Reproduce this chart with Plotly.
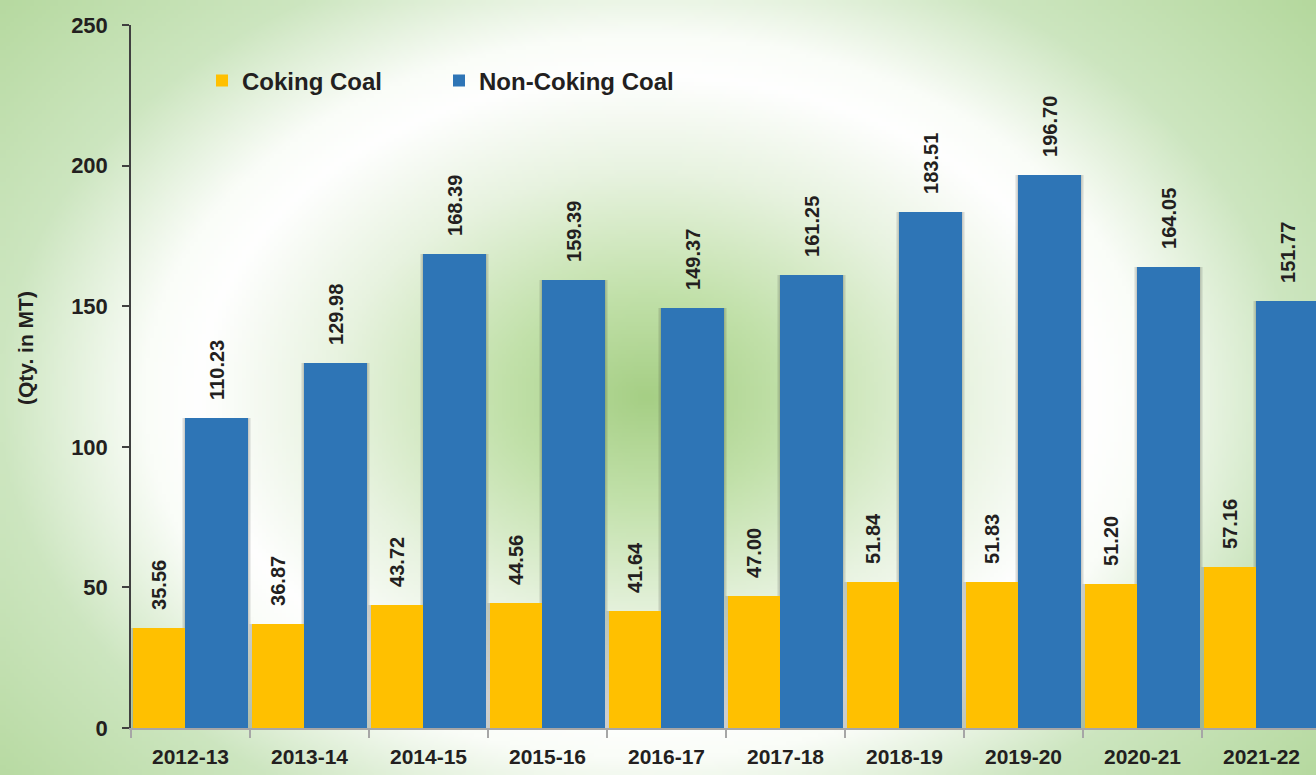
import base64, struct, zlib
import numpy as np
import plotly.graph_objects as go

# ---------------- data ----------------
years = ["2012-13", "2013-14", "2014-15", "2015-16", "2016-17",
         "2017-18", "2018-19", "2019-20", "2020-21", "2021-22"]
coking = [35.56, 36.87, 43.72, 44.56, 41.64, 47.00, 51.84, 51.83, 51.20, 57.16]
non_coking = [110.23, 129.98, 168.39, 159.39, 149.37, 161.25, 183.51, 196.70, 164.05, 151.77]
y_ticks = [0, 50, 100, 150, 200, 250]

# ---------------- figure geometry ----------------
W, H = 1316, 775
ML, MT, MB, MR = 131, 25, 47, 0
PW, PH = W - ML - MR, H - MT - MB

FONT = "Liberation Sans, Arial, sans-serif"
TXT = "#231f20"


# ---------------- background (radial gradient) ----------------
def make_bg(w, h):
    ys, xs = np.mgrid[0:h, 0:w].astype(float)
    sx, sy = W / w, H / h
    X, Y = xs * sx, ys * sy
    r = np.sqrt(((X - 645) / 480.0) ** 2 + ((Y - 395) / 345.0) ** 2)
    stops = [0.0, 0.3, 0.65, 0.93, 1.05, 1.35, 1.85, 3.0]
    cols = np.array([
        [166, 207, 133],
        [194, 225, 170],
        [232, 243, 224],
        [255, 255, 255],
        [250, 253, 248],
        [205, 230, 192],
        [178, 215, 154],
        [170, 210, 145],
    ], dtype=float)
    img = np.zeros((h, w, 3))
    for c in range(3):
        img[..., c] = np.interp(r, stops, cols[:, c])
    return img.clip(0, 255).astype(np.uint8)


def png_uri(arr):
    h, w, _ = arr.shape
    raw = b"".join(b"\x00" + arr[i].tobytes() for i in range(h))

    def chunk(t, d):
        return struct.pack(">I", len(d)) + t + d + struct.pack(">I", zlib.crc32(t + d) & 0xFFFFFFFF)

    png = (b"\x89PNG\r\n\x1a\n"
           + chunk(b"IHDR", struct.pack(">IIBBBBB", w, h, 8, 2, 0, 0, 0))
           + chunk(b"IDAT", zlib.compress(raw, 9))
           + chunk(b"IEND", b""))
    return "data:image/png;base64," + base64.b64encode(png).decode()


bg = png_uri(make_bg(329, 194))

# ---------------- traces ----------------
cat_w = 119.0  # px per category
pad = "\u00a0\u00a0\u2009"
label_font = dict(family=FONT, size=20, color=TXT, weight="bold")

series = [
    dict(name="Coking Coal", y=coking, w=52, off=-57.5, color="#ffc000", legend="legend"),
    dict(name="Non-Coking Coal", y=non_coking, w=63, off=-5.5, color="#2e75b6", legend="legend2"),
]

fig = go.Figure()

# soft drop shadows behind the bars
for s in series:
    for k in (1, 2, 3):
        fig.add_trace(go.Bar(
            x=years, y=s["y"], showlegend=False, hoverinfo="skip",
            width=(s["w"] + 2 * k) / cat_w, offset=(s["off"] - k) / cat_w,
            marker=dict(color="rgba(40,40,40,0.08)", line=dict(width=0)),
        ))

for s in series:
    fig.add_trace(go.Bar(
        name=s["name"], x=years, y=s["y"], legend=s["legend"],
        width=s["w"] / cat_w, offset=s["off"] / cat_w,
        marker=dict(color=s["color"], line=dict(width=0)),
        texttemplate=pad + "%{y:.2f}", textposition="outside", textangle=-90,
        constraintext="none", cliponaxis=False, textfont=label_font,
    ))

x_right = 9.5 - (ML + 10 * cat_w - W) / cat_w
leg_y = (H - MB - 81) / PH
leg_common = dict(
    orientation="h", yanchor="middle", xanchor="left", y=leg_y,
    font=dict(family=FONT, size=24, color=TXT, weight="bold"),
    bgcolor="rgba(0,0,0,0)", itemwidth=30,
)

fig.update_layout(
    width=W, height=H,
    margin=dict(l=ML, r=MR, t=MT, b=MB, pad=0),
    paper_bgcolor="rgba(0,0,0,0)", plot_bgcolor="rgba(0,0,0,0)",
    barmode="overlay", bargap=0,
    showlegend=True,
    legend=dict(x=(202 - ML) / PW, **leg_common),
    legend2=dict(x=(439 - ML) / PW, **leg_common),
    images=[dict(
        source=bg, xref="paper", yref="paper",
        x=-ML / PW, y=1 + MT / PH, sizex=W / PW, sizey=H / PH,
        xanchor="left", yanchor="top", sizing="stretch", layer="below",
    )],
    annotations=[dict(
        text="<b>(Qty. in MT)</b>", textangle=-90, showarrow=False,
        xref="paper", yref="paper", x=(25 - ML) / PW, y=(H - MB - 348) / PH,
        xanchor="center", yanchor="middle",
        font=dict(family=FONT, size=21, color=TXT),
    )],
    xaxis=dict(
        range=[-0.5, x_right], showgrid=False, zeroline=False,
        showline=True, linecolor="#a6a6a6", linewidth=2,
        ticks="outside", tickson="boundaries", ticklen=8, tickcolor="#a6a6a6", tickwidth=1.5,
        ticklabelstandoff=9,
        tickfont=dict(family=FONT, size=21, color=TXT, weight="bold"),
        fixedrange=True,
    ),
    yaxis=dict(
        range=[0, 250], tickvals=y_ticks, showgrid=False, zeroline=False,
        showline=True, linecolor="#404040", linewidth=1.5,
        ticks="outside", ticklen=7, tickcolor="#404040", tickwidth=1.5,
        ticklabelstandoff=10,
        tickfont=dict(family=FONT, size=22, color=TXT, weight="bold"),
        fixedrange=True,
    ),
)

fig.write_html(
    "out.html",
    config={"displayModeBar": False},
    post_script="document.body.style.margin='0';document.body.style.overflow='hidden';",
)
